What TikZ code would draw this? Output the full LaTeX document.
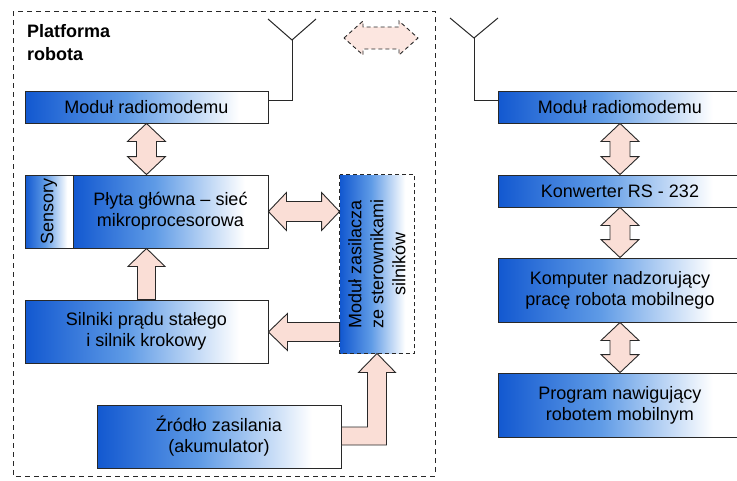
\documentclass[tikz,border=0pt]{standalone}
\usepackage{fontspec}
\setmainfont{Liberation Sans}
\usetikzlibrary{calc}
\definecolor{bl}{RGB}{18,88,208}
\definecolor{blmid}{RGB}{95,155,230}
\definecolor{pinkf}{RGB}{250,222,214}
\definecolor{pinkl}{RGB}{252,230,224}
\definecolor{edge}{RGB}{40,40,40}
\pgfdeclarehorizontalshading{boxshade}{100bp}{color(0bp)=(bl); color(25bp)=(bl); color(46bp)=(blmid); color(69bp)=(white); color(100bp)=(white)}
\tikzset{
  box/.style={draw=edge, line width=0.9pt, shading=boxshade, inner sep=0pt, align=center,
    font=\fontsize{18}{21}\selectfont},
  fat/.style={draw=edge, line width=0.9pt, fill=pinkf, line join=miter},
  antline/.style={draw=edge, line width=1pt},
}
\begin{document}
\begin{tikzpicture}[x=1pt,y=-1pt]
\useasboundingbox (0,0) rectangle (737,480);
\begin{scope}
\clip (0,0) rectangle (737,480);
% outer dashed frame
\draw[edge, line width=1pt, dash pattern=on 5pt off 4pt] (13,11) rectangle (435,476);
\node[anchor=north west, inner sep=0pt, align=left, font=\fontsize{18}{23}\selectfont\bfseries] (title) at (27,24) {Platforma\\robota};

% left boxes
\node[box, minimum width=243pt, minimum height=32pt] (lmod) at (146.5,107) {Moduł radiomodemu};
\node[box, minimum width=48pt, minimum height=73pt] (sens) at (49,211.5) {};
\node[rotate=90, font=\fontsize{18}{21}\selectfont] (senstxt) at (sens.center) {Sensory};
\node[box, minimum width=195pt, minimum height=73pt] (plyta) at (170.5,211.5) {Płyta główna – sieć\\mikroprocesorowa};
\node[box, minimum width=243pt, minimum height=63pt] (siln) at (146.5,331.5) {Silniki prądu stałego\\i silnik krokowy};
\node[box, minimum width=244pt, minimum height=63pt] (zrod) at (219,436.5) {Źródło zasilania\\(akumulator)};
\node[box, draw=none, minimum width=74pt, minimum height=178pt] (zasil) at (377,264) {};
\draw[edge, line width=0.9pt, dash pattern=on 4pt off 3pt] (zasil.north west) rectangle (zasil.south east);
\node[rotate=90, align=center, font=\fontsize{18}{22}\selectfont] (zasiltxt) at (zasil.center) {Moduł zasilacza\\ze sterownikami\\silników};

% right boxes
\node[box, minimum width=244pt, minimum height=32pt] (rmod) at (620,107) {Moduł radiomodemu};
\node[box, minimum width=244pt, minimum height=32pt] (konw) at (620,191) {Konwerter RS - 232};
\node[box, minimum width=244pt, minimum height=64pt] (komp) at (620,290) {Komputer nadzorujący\\pracę robota mobilnego};
\node[box, minimum width=244pt, minimum height=64pt] (prog) at (620,405) {Program nawigujący\\robotem mobilnym};

% antennas
\coordinate (lant) at (292,40);
\coordinate (lantl) at (268,19);
\coordinate (lantr) at (316,19);
\draw[antline] (lantl) -- (lant) -- (lantr);
\draw[antline] (lant) |- ($(lmod.east)+(0,-7)$);
\coordinate (rant) at (474,38);
\coordinate (rantl) at (450,18);
\coordinate (rantr) at (498,18);
\draw[antline] (rantl) -- (rant) -- (rantr);
\draw[antline] (rant) |- ($(rmod.west)+(0,-7)$);

% vertical double arrows
\coordinate (a1) at (lmod.south);
\coordinate (b1) at (lmod.south |- plyta.north);
\draw[fat] (a1) -- ++(19,18) -- ++(-9,0) -- ($(b1)+(10,-18)$) -- ++(9,0) -- (b1) -- ++(-19,-18) -- ++(9,0) -- ($(a1)+(-10,18)$) -- ++(-9,0) -- cycle;
\foreach \u/\v in {rmod/konw, konw/komp, komp/prog}{
  \draw[fat] (\u.south) -- ++(19,18) -- ++(-9,0) -- ($(\v.north)+(10,-18)$) -- ++(9,0) -- (\v.north) -- ++(-19,-18) -- ++(9,0) -- ($(\u.south)+(-10,18)$) -- ++(-9,0) -- cycle;
}

% horizontal double arrow plyta <-> zasil
\coordinate (a2) at (plyta.east);
\coordinate (b2) at (zasil.west |- plyta.east);
\draw[fat] (a2) -- ++(18,-19) -- ++(0,9) -- ($(b2)+(-18,-10)$) -- ++(0,-9) -- (b2) -- ++(-18,19) -- ++(0,-9) -- ($(a2)+(18,10)$) -- ++(0,9) -- cycle;

% up arrow silniki -> plyta
\coordinate (a3) at (siln.north |- plyta.south);
\coordinate (b3) at (siln.north);
\draw[fat] (a3) -- ++(18.5,18) -- ++(-9.5,0) -- ($(b3)+(9,0)$) -- ($(b3)+(-9,0)$) -- ($(a3)+(-9,18)$) -- ++(-9.5,0) -- cycle;

% left arrow zasil -> silniki
\coordinate (a4) at ($(siln.east)+(0,0.5)$);
\coordinate (b4) at (zasil.west |- a4);
\draw[fat] (a4) -- ++(19,-18.5) -- ++(0,9) -- ($(b4)+(0,-9.5)$) -- ($(b4)+(0,9.5)$) -- ($(a4)+(19,9.5)$) -- ++(0,9) -- cycle;

% elbow arrow zrodlo -> zasil
\coordinate (a5) at (zasil.south);
\coordinate (b5) at (zrod.east);
\coordinate (e1) at ($(a5)+(-9.5,0)$);
\coordinate (e2) at ($(a5)+(9.5,0)$);
\coordinate (e1b) at (e1 |- b5);
\coordinate (e2b) at (e2 |- b5);
\draw[fat] ($(b5)+(0,-9.5)$) -- ($(e1b)+(0,-9.5)$) -- ($(e1)+(0,19)$) -- ++(-9,0) -- (a5) -- ++(18.5,19) -- ++(-9,0) -- ($(e2b)+(0,8.5)$) -- ($(b5)+(0,8.5)$) -- cycle;

% dashed legend arrow
\coordinate (d1) at (344,38);
\coordinate (d2) at (418,38);
\draw[edge, line width=0.9pt, fill=pinkl, dash pattern=on 4pt off 3pt] (d1) -- ++(19,-17) -- ++(0,6) -- ($(d2)+(-19,-11)$) -- ++(0,-6) -- (d2) -- ++(-19,17) -- ++(0,-6) -- ($(d1)+(19,11)$) -- ++(0,6) -- cycle;
\end{scope}
\end{tikzpicture}
\end{document}
